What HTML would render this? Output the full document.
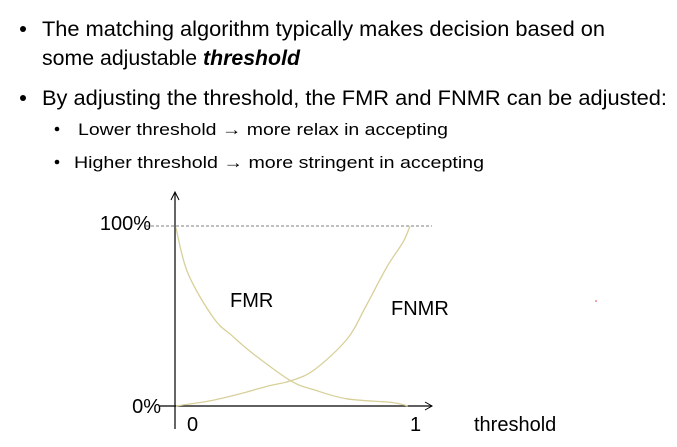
<!DOCTYPE html>
<html><head><meta charset="utf-8"><style>
html,body{margin:0;padding:0;background:#fff;}
svg{display:block;}
text{font-family:"Liberation Sans",sans-serif;fill:#000;}
</style></head><body>
<svg id="chart" width="677" height="447" viewBox="0 0 677 447" xmlns="http://www.w3.org/2000/svg">
<g font-size="21">
<circle cx="23" cy="29" r="3"/>
<text x="42" y="36" textLength="563" lengthAdjust="spacingAndGlyphs">The matching algorithm typically makes decision based on</text>
<text x="42" y="65" textLength="258" lengthAdjust="spacingAndGlyphs">some adjustable <tspan font-weight="bold" font-style="italic">threshold</tspan></text>
<circle cx="23" cy="98" r="3"/>
<text x="42" y="105" textLength="625" lengthAdjust="spacingAndGlyphs">By adjusting the threshold, the FMR and FNMR can be adjusted:</text>
<circle cx="57" cy="129" r="2.3"/>
<text x="78" y="135" font-size="17" textLength="370" lengthAdjust="spacingAndGlyphs">Lower threshold → more relax in accepting</text>
<circle cx="57" cy="162" r="2.3"/>
<text x="74" y="168" font-size="17" textLength="410" lengthAdjust="spacingAndGlyphs">Higher threshold →  more stringent in accepting</text>
</g>
<g id="plot"></g>
<circle cx="596" cy="301" r="0.8" fill="#e33"/>
</svg>
<script>
const xs_fmr = [0,0.05,0.16,0.24,0.33,0.49,0.59,0.73,0.92,0.99];
const fmr    = [0.99,0.74,0.49,0.39,0.29,0.14,0.09,0.04,0.02,0];
const xs_fnmr= [0,0.15,0.28,0.39,0.49,0.59,0.73,0.81,0.9,0.97,1];
const fnmr   = [0,0.03,0.07,0.11,0.14,0.2,0.37,0.55,0.77,0.91,1];
const xTicks = ["0","1"];
const yTicks = ["0%","100%"];
const X0=176,X1=410,Y0=406,Y1=226;
const sx=v=>X0+v*(X1-X0), sy=v=>Y0-v*(Y0-Y1);
const NS="http://www.w3.org/2000/svg", g=document.getElementById('plot');
function mk(t,a,p){const e=document.createElementNS(NS,t);for(const k in a)e.setAttribute(k,a[k]);(p||g).appendChild(e);return e;}
let e;
e=mk('line',{x1:sx(0)-30,y1:sy(1),x2:432,y2:sy(1),stroke:'#555','stroke-width':0.8,'stroke-dasharray':'3,2'});


e=mk('line',{x1:175,y1:429,x2:175,y2:193,stroke:'#000','stroke-width':1.2});


e=mk('path',{d:'M171,200 L175,192 L179,200',fill:'none',stroke:'#000','stroke-width':1});


e=mk('line',{x1:160,y1:406,x2:432,y2:406,stroke:'#000','stroke-width':1.2});


e=mk('path',{d:'M425,402 L432,406 L425,410',fill:'none',stroke:'#000','stroke-width':1});


function curve(xs,ys,name){
  const P=xs.map((x,i)=>[sx(x),sy(ys[i])]);
  let d='M'+P[0][0].toFixed(1)+','+P[0][1].toFixed(1);
  for(let i=0;i<P.length-1;i++){
    const p0=P[Math.max(i-1,0)],p1=P[i],p2=P[i+1],p3=P[Math.min(i+2,P.length-1)];
    const c1=[p1[0]+(p2[0]-p0[0])/6,p1[1]+(p2[1]-p0[1])/6];
    const c2=[p2[0]-(p3[0]-p1[0])/6,p2[1]-(p3[1]-p1[1])/6];
    d+=' C'+c1.map(v=>v.toFixed(1)).join(',')+' '+c2.map(v=>v.toFixed(1)).join(',')+' '+p2.map(v=>v.toFixed(1)).join(',');
  }
  const p=mk('path',{d:d,fill:'none',stroke:'#d8d09a','stroke-width':1.3,'stroke-linejoin':'round'});
  
  
}
curve(xs_fmr,fmr,'fmr-curve');
curve(xs_fnmr,fnmr,'fnmr-curve');
function txt(s,x,y,name,anchor){const t=mk('text',{x:x,y:y,'font-size':20,'text-anchor':anchor||'start'});t.textContent=s;
  
  }
txt(yTicks[1],151,230,'y-tick-100','end');
txt(yTicks[0],161,413,'y-tick-0','end');
txt(xTicks[0],187,431,'x-tick-0');
txt(xTicks[1],410,431,'x-tick-1');
txt('threshold',474,431,'x-axis-title');
txt('FMR',230,307,'fmr-label');
txt('FNMR',391,315,'fnmr-label');
</script>
</body></html>
